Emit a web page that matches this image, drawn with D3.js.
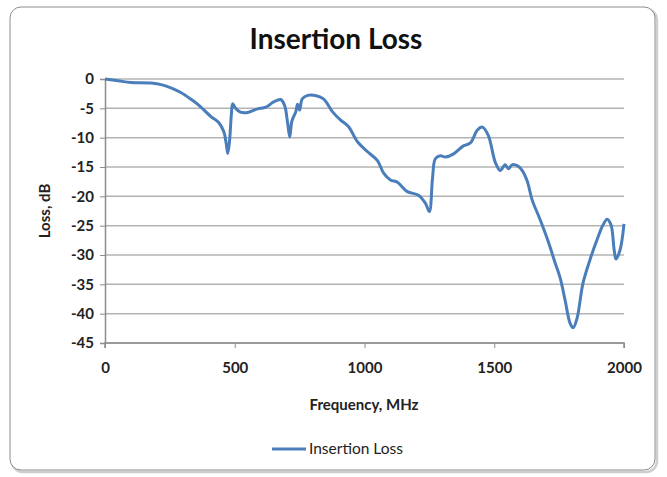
<!DOCTYPE html>
<html><head><meta charset="utf-8">
<script src="https://cdn.jsdelivr.net/npm/d3@7"></script>
<style>html,body{margin:0;padding:0;background:#fff;}svg{display:block;}</style>
</head><body>
<svg id="c" width="667" height="477"></svg>
<script>
const title = "Insertion Loss";
const seriesName = "Insertion Loss";
const xLabel = "Frequency, MHz";
const yLabel = "Loss, dB";
const xTicks = [0, 500, 1000, 1500, 2000];
const yTicks = [0, -5, -10, -15, -20, -25, -30, -35, -40, -45];
const freq = [0,50,100,177,220,254,292,330,360,408,438,458,467,473,480,487,492,503,520,550,588,620,650,677,692,704,712,720,735,742,750,760,781,810,842,877,908,938,973,1012,1050,1073,1100,1127,1165,1208,1235,1250,1262,1273,1292,1312,1342,1381,1408,1435,1454,1477,1504,1523,1542,1554,1570,1590,1608,1627,1646,1677,1708,1735,1754,1773,1792,1804,1819,1842,1869,1896,1919,1935,1950,1962,1969,1985,2000];
const loss = [0,-0.3,-0.6,-0.7,-1.0,-1.5,-2.3,-3.4,-4.4,-6.4,-7.4,-9.0,-11.0,-12.7,-10.5,-6.0,-4.2,-5.0,-5.6,-5.7,-5.1,-4.8,-3.9,-3.5,-4.5,-7.6,-9.9,-7.2,-5.6,-4.3,-5.3,-3.4,-2.8,-2.8,-3.4,-5.6,-7.0,-8.1,-10.7,-12.4,-13.9,-16.0,-17.2,-17.6,-19.2,-19.8,-21.2,-22.6,-17,-13.6,-13.1,-13.3,-12.8,-11.4,-10.9,-8.7,-8.2,-9.6,-14.2,-15.6,-14.6,-15.3,-14.6,-14.8,-15.6,-17.4,-20.6,-24.0,-27.7,-31.4,-33.9,-37.7,-41.6,-42.4,-40.8,-34.8,-30.8,-27.4,-24.9,-23.9,-24.9,-29.1,-30.7,-29.1,-24.7];

const svg = d3.select("#c");
const font = "'Lato','DejaVu Sans Condensed',sans-serif";

// outer frame
svg.append("rect").attr("x",11).attr("y",8).attr("width",645).attr("height",463)
  .attr("rx",11).attr("fill","none").attr("stroke","#a0a0a0").attr("stroke-width",2.5).attr("opacity",0.5)
  .attr("transform","translate(1,1)");
svg.append("rect").attr("x",10).attr("y",7).attr("width",645).attr("height",463)
  .attr("rx",11).attr("fill","#fff").attr("stroke","#8c8c8c").attr("stroke-width",1);

const x = d3.scaleLinear().domain([0,2000]).range([105,624]);
const y = d3.scaleLinear().domain([-45,0]).range([343,79]);

// gridlines
svg.append("g").selectAll("line").data(yTicks).join("line")
  .attr("x1",105).attr("x2",624).attr("y1",d=>y(d)).attr("y2",d=>y(d))
  .attr("stroke","#b3b3b3").attr("stroke-width",1.5);

// axes
const fmt = d=>String(d);
const yAxis = d3.axisLeft(y).tickValues(yTicks).tickSize(5).tickPadding(6).tickFormat(fmt);
const gy = svg.append("g").attr("transform","translate(105,0)").call(yAxis);
const xAxis = d3.axisBottom(x).tickValues(xTicks).tickSize(5).tickPadding(14).tickFormat(fmt);
const gx = svg.append("g").attr("transform","translate(0,343)").call(xAxis);
[gx,gy].forEach(g=>{
  g.select(".domain").attr("stroke","#8c8c8c").attr("stroke-width",1.5);
  g.selectAll(".tick line").attr("stroke","#8c8c8c").attr("stroke-width",1);
  g.selectAll("text").attr("font-family",font).attr("font-weight","bold").attr("font-size",15).attr("fill","#222");
});
gx.select(".domain").attr("d","M105,5V0H624V5");

// line
const line = d3.line().x((d,i)=>x(freq[i])).y(d=>y(d)).curve(d3.curveCatmullRom.alpha(0.5));
svg.append("path").datum(loss).attr("d",line).attr("fill","none")
  .attr("stroke","#4a7ebb").attr("stroke-width",3).attr("stroke-linejoin","round");

// title
svg.append("text").attr("x",336).attr("y",49).attr("text-anchor","middle")
  .attr("font-family",font).attr("font-weight","bold").attr("font-size",28).attr("fill","#111").text(title);
// axis labels
svg.append("text").attr("x",364).attr("y",410).attr("text-anchor","middle")
  .attr("font-family",font).attr("font-weight","bold").attr("font-size",15).attr("fill","#222").text(xLabel);
svg.append("text").attr("transform","translate(50,211) rotate(-90)").attr("text-anchor","middle")
  .attr("font-family",font).attr("font-weight","bold").attr("font-size",15).attr("fill","#222").text(yLabel);
// legend
svg.append("line").attr("x1",272).attr("x2",306).attr("y1",449).attr("y2",449)
  .attr("stroke","#4a7ebb").attr("stroke-width",3);
svg.append("text").attr("x",309).attr("y",454).attr("font-family",font).attr("font-size",15.5)
  .attr("fill","#222").text(seriesName);
</script>
</body></html>
